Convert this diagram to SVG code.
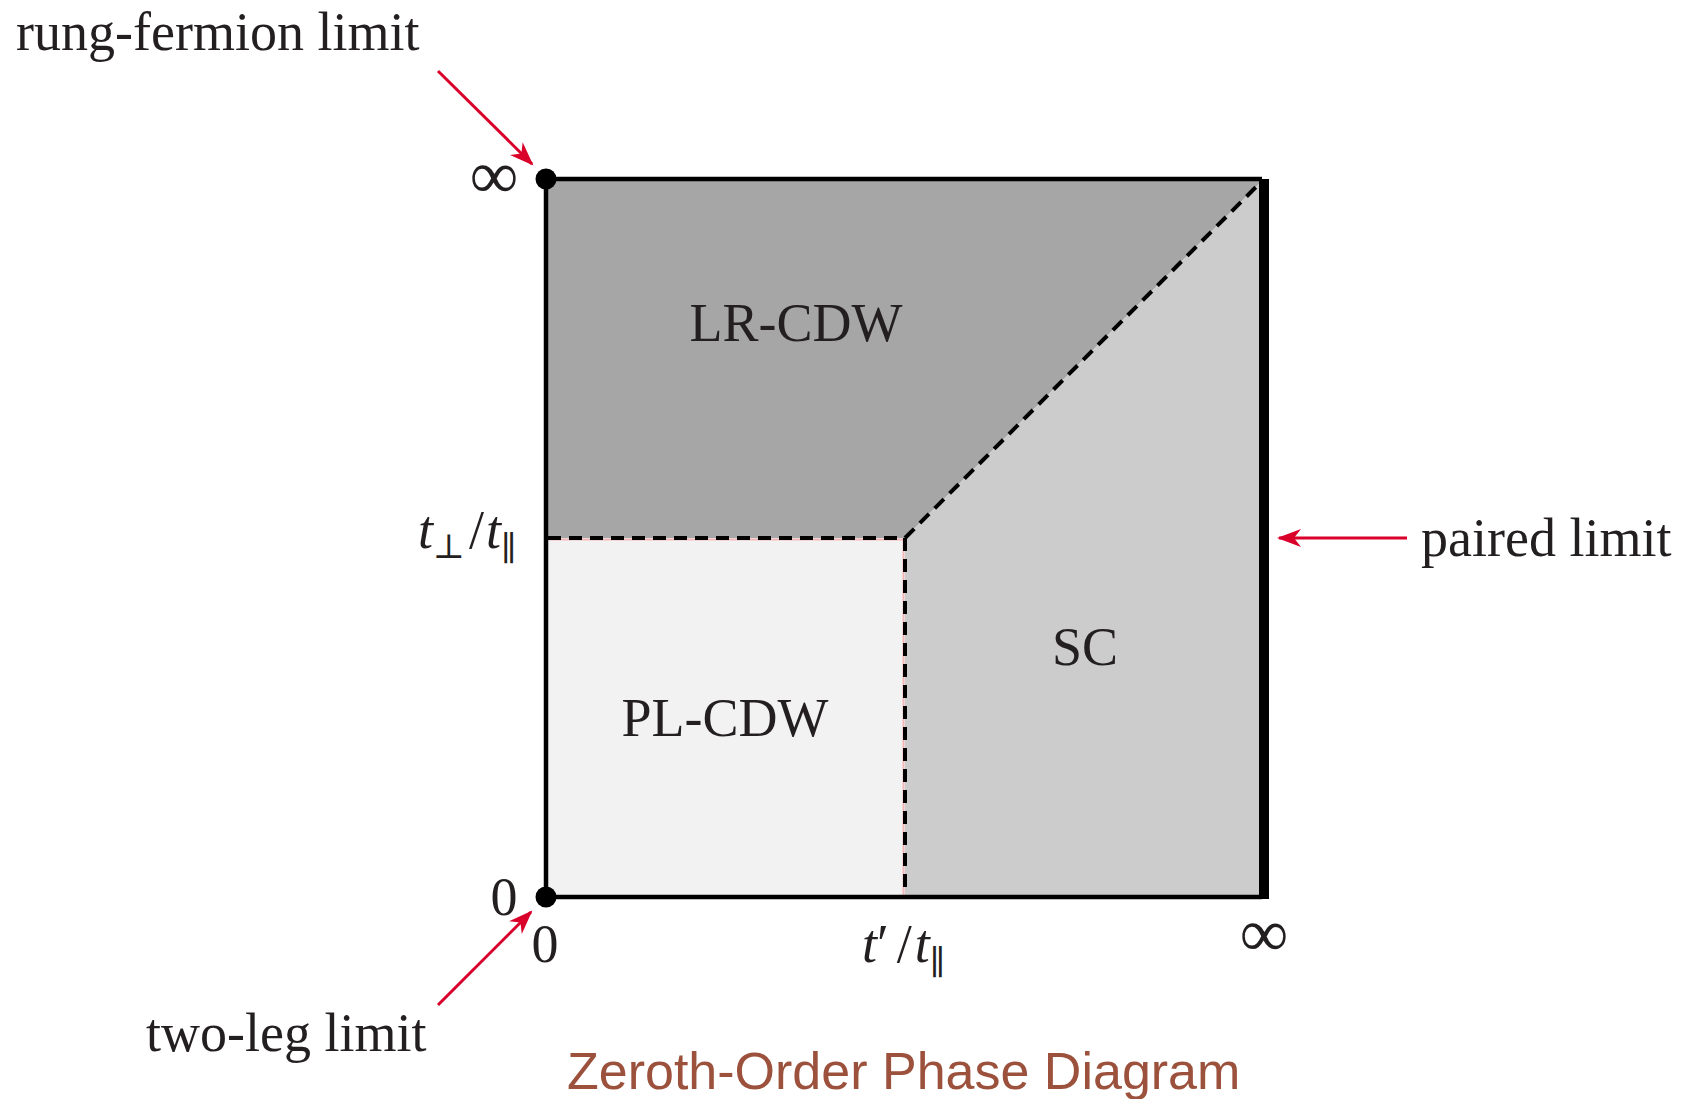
<svg xmlns="http://www.w3.org/2000/svg" width="1682" height="1099" viewBox="0 0 1682 1099">
<style>
.t{font-family:"Liberation Serif","DejaVu Serif",serif;fill:#231f20;font-size:54px}
.it{font-style:italic}
.sub{font-size:34px}
.inf{font-size:68px}
.title{font-family:"Liberation Sans",Arial,sans-serif;fill:#9c513d;font-size:52px}
.dash{stroke:#000;stroke-width:4;stroke-dasharray:13 8;fill:none}
.pink{stroke:#f4b8b8;stroke-width:2;fill:none}
.arr{stroke:#d9002a;stroke-width:3;fill:none;marker-end:url(#ah)}
</style>
<defs>
<marker id="ah" markerUnits="userSpaceOnUse" markerWidth="30" markerHeight="24" viewBox="-26 -12 30 24" refX="0" refY="0" orient="auto">
<path d="M2,0 L-22,-9 L-15,0 L-22,9 Z" fill="#d9002a"/>
</marker>
</defs>
<rect width="1682" height="1099" fill="#fff"/>
<g id="region-lr-cdw">
<polygon points="546,179 1264,179 905,538 546,538" fill="#a6a6a6"/>
<text class="t" x="796" y="341" text-anchor="middle">LR-CDW</text>
</g>
<g id="region-sc">
<polygon points="905,538 1264,179 1264,897 905,897" fill="#cccccc"/>
<text class="t" x="1085" y="665" text-anchor="middle">SC</text>
</g>
<g id="region-pl-cdw">
<rect x="546" y="538" width="359" height="359" fill="#f2f2f2"/>
<text class="t" x="725" y="736" text-anchor="middle">PL-CDW</text>
</g>
<g id="connectors">
<line class="pink" x1="546" y1="539.5" x2="905" y2="539.5"/>
<line class="pink" x1="903.5" y1="538" x2="903.5" y2="897"/>
<line class="dash" x1="548" y1="538" x2="905" y2="538"/>
<line class="dash" x1="905" y1="538" x2="905" y2="897"/>
<line class="dash" x1="905" y1="538" x2="1262" y2="181"/>
<path d="M546,897 L546,179 L1262,179" stroke="#000" stroke-width="4.5" fill="none"/>
<line x1="546" y1="897" x2="1262" y2="897" stroke="#000" stroke-width="4.5"/>
<line x1="1264" y1="179" x2="1264" y2="899" stroke="#000" stroke-width="10"/>
<line class="arr" x1="438" y1="71" x2="532" y2="164"/>
<line class="arr" x1="438" y1="1005" x2="531" y2="912"/>
<line class="arr" x1="1407" y1="538" x2="1279" y2="538"/>
</g>
<g id="point-rung-fermion">
<circle cx="546" cy="179" r="10.5" fill="#000"/>
<text class="t" x="16" y="50">rung-fermion limit</text>
</g>
<g id="point-two-leg">
<circle cx="546" cy="897" r="10.5" fill="#000"/>
<text class="t" x="146" y="1051">two-leg limit</text>
</g>
<g id="label-paired">
<text class="t" x="1421" y="556">paired limit</text>
</g>
<g id="axis-labels">
<text class="t inf" x="494" y="198" text-anchor="middle">∞</text>
<text class="t" x="504" y="915" text-anchor="middle">0</text>
<text class="t" x="545" y="962" text-anchor="middle">0</text>
<text class="t inf" x="1264" y="956" text-anchor="middle">∞</text>
<text class="t" x="418" y="548"><tspan class="it">t</tspan><tspan class="sub" dy="10">⊥</tspan><tspan dy="-10" dx="4">/</tspan><tspan class="it" dx="2">t</tspan><tspan class="sub" dy="12">∥</tspan></text>
<text class="t" x="862" y="962"><tspan class="it">t</tspan><tspan>′</tspan><tspan dx="8">/</tspan><tspan class="it" dx="3">t</tspan><tspan class="sub" dy="12">∥</tspan></text>
</g>
<text class="title" x="567" y="1089">Zeroth-Order Phase Diagram</text>
</svg>
